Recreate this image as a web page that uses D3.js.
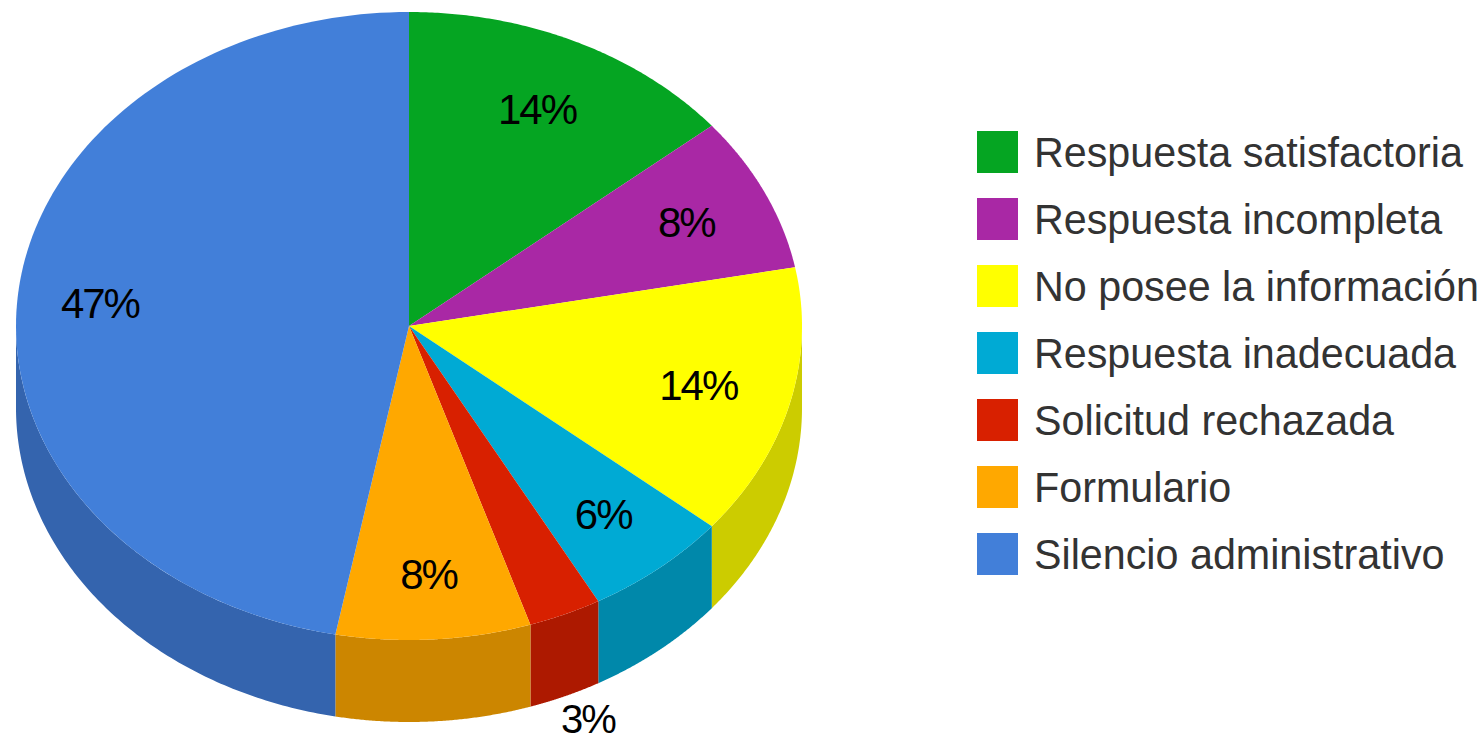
<!DOCTYPE html>
<html><head><meta charset="utf-8">
<script src="https://cdn.jsdelivr.net/npm/d3@7/dist/d3.min.js"></script>
<style>html,body{margin:0;padding:0;background:#fff;overflow:hidden}svg{display:block}text{font-family:"Liberation Sans",Arial,sans-serif;}</style>
</head><body><svg id="c" width="1480" height="737"></svg>
<script>
const categories=["Respuesta satisfactoria","Respuesta incompleta","No posee la información","Respuesta inadecuada","Solicitud rechazada","Formulario","Silencio administrativo"];
const values=[14,8,14,6,3,8,47];
const topColors=["#05a522","#a928a5","#ffff00","#00aad4","#d82000","#ffa800","#427fd9"];
const sideColors=["#048a1c","#86208a","#cccc00","#0088aa","#ad1900","#cc8600","#3464ae"];
const labelRadius=[.765,.78,.76,.775,1.147,.79,.79];
const cx=409,cy=326,rx=393,ry=314,depth=82;
const svg=d3.select("#c");
const px=d3.scaleLinear().domain([-1,1]).range([cx-rx,cx+rx]);
const py=d3.scaleLinear().domain([-1,1]).range([cy-ry,cy+ry]);
const pie=d3.pie().sort(null).value(d=>d);
const arcs=pie(values);
const pt=(a,r=1)=>[px(Math.sin(a)*r),py(-Math.cos(a)*r)];
const line=d3.line();
const samples=(a0,a1)=>d3.range(0,121).map(i=>a0+(a1-a0)*i/120);
// side walls (only the front half, angle between 90 and 270 degrees)
arcs.forEach((d,i)=>{
  const a0=Math.max(d.startAngle,Math.PI/2),a1=Math.min(d.endAngle,Math.PI*1.5);
  if(a1<=a0)return;
  const t=samples(a0,a1).map(a=>pt(a));
  const b=t.map(p=>[p[0],p[1]+depth]).reverse();
  svg.append("path").attr("d",line(t.concat(b))+"Z").attr("fill",sideColors[i]);
});
// top faces
arcs.forEach((d,i)=>{
  const t=samples(d.startAngle,d.endAngle).map(a=>pt(a));
  svg.append("path").attr("d",line([[px(0),py(0)]].concat(t))+"Z").attr("fill",topColors[i]);
});
// percentage labels: inside the slice, except the thin one, which sits below the wall
arcs.forEach((d,i)=>{
  const a=(d.startAngle+d.endAngle)/2;
  const outside=values[i]<5;
  const p=pt(a,labelRadius[i]);
  svg.append("text").attr("x",p[0]).attr("y",outside?p[1]+76:p[1]+15).attr("text-anchor","middle")
    .attr("font-size",outside?40:42).attr("letter-spacing",-2).attr("fill","#000").text(values[i]+"%");
});
// legend
const ly=d3.scalePoint().domain(categories).range([152,554]);
const g=svg.selectAll("g.l").data(categories).join("g").attr("class","l").attr("transform",d=>`translate(977,${ly(d)})`);
g.append("rect").attr("y",-21).attr("width",41).attr("height",42).attr("fill",(d,i)=>topColors[i]);
g.append("text").attr("transform","translate(57,15) scale(0.96,1)").attr("font-size",43).attr("fill","#333").text(d=>d);
</script></body></html>
